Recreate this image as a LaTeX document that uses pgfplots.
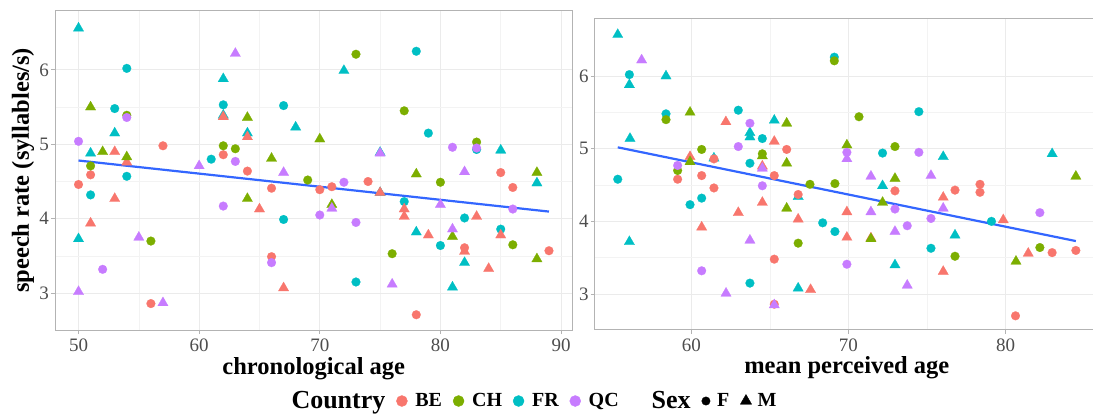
\documentclass[border=0pt]{standalone}
\usepackage{fontspec}
\setmainfont{Liberation Serif}
\usepackage{pgfplots}
\pgfplotsset{compat=1.18}
\definecolor{cBE}{HTML}{F8766D}
\definecolor{cCH}{HTML}{7CAE00}
\definecolor{cFR}{HTML}{00BFC4}
\definecolor{cQC}{HTML}{C77CFF}
\definecolor{gridmaj}{HTML}{EBEBEB}
\definecolor{gridmin}{HTML}{F3F3F3}
\definecolor{bordc}{HTML}{B3B3B3}
\definecolor{tickc}{HTML}{4D4D4D}
\definecolor{lineblue}{HTML}{3366FF}
\pgfplotsset{
  myaxis/.style={
    scale only axis,
    axis line style={bordc, line width=1bp},
    tick align=outside,
    tick pos=left,
    major tick length=4bp,
    minor tick length=0pt,
    tick style={bordc, line width=1bp},
    minor tick num=1,
    xmajorgrids, ymajorgrids, xminorgrids, yminorgrids,
    major grid style={gridmaj, line width=1bp},
    minor grid style={gridmin, line width=0.6bp},
    tick label style={font=\fontsize{19bp}{19bp}\selectfont, text=tickc},
    /pgf/number format/assume math mode=true,
    xticklabel style={inner ysep=2bp, yshift=-3bp},
    yticklabel style={inner xsep=2bp},
    ymin=2.505, ymax=6.795,
    ytick={3,4,5,6},
    label style={font=\fontsize{24.5bp}{24.5bp}\selectfont\bfseries, text=black},
  },
  fpt/.style={only marks, mark=*, mark size=4.4bp, forget plot, mark options={line width=0.2bp}},
  mpt/.style={only marks, mark=triangle*, mark size=6bp, forget plot, mark options={line width=0.2bp}},
}
\begin{document}
\begin{tikzpicture}
\useasboundingbox (0,0) rectangle (1093bp,415bp);
% ---------------- left panel: chronological age
\begin{axis}[myaxis,
  at={(55bp,85bp)}, anchor=south west,
  width=517.5bp, height=319.3bp,
  xmin=48.05, xmax=90.95,
  xtick={50,60,70,80,90},
  xlabel={chronological age},
  ylabel={speech rate (syllables/s)},
  xlabel style={at={(axis description cs:0.5,-0.122)}, anchor=center},
  ylabel style={at={(axis description cs:-0.0618,0.5)}, anchor=center, rotate=0},
  legend columns=-1,
  legend image code/.code={\draw[#1] plot coordinates {(0bp,0bp)};},
  legend style={draw=none, fill=none, at={(axis description cs:0.9256,-0.2224)}, anchor=center,
    /tikz/every even column/.append style={column sep=3bp},
    nodes={inner xsep=8bp, inner ysep=0bp, text=black},
    font=\fontsize{20bp}{20bp}\selectfont\bfseries},
]
% FR
\addplot[fpt, color=cFR] coordinates {(51,4.32) (53,5.48) (54,6.02) (54,4.57) (61,4.80) (62,5.53) (67,5.52) (67,3.99) (73,3.15) (77,4.23) (78,6.25) (79,5.15) (80,3.64) (82,4.01) (83,4.93) (85,3.86)};
\addplot[mpt, color=cFR] coordinates {(50,6.56) (50,3.73) (51,4.88) (53,5.15) (62,5.88) (62,5.39) (64,5.15) (68,5.23) (72,5.99) (75,4.89) (75,4.35) (78,3.82) (81,3.08) (82,3.41) (85,4.92) (88,4.48)};
% BE
\addplot[fpt, color=cBE] coordinates {(50,4.46) (51,4.59) (56,2.86) (57,4.98) (62,4.86) (64,4.64) (66,4.41) (66,3.49) (70,4.39) (71,4.43) (74,4.50) (78,2.71) (82,3.61) (85,4.62) (86,4.42) (89,3.57)};
\addplot[mpt, color=cBE] coordinates {(51,3.94) (53,4.27) (53,4.90) (54,4.76) (62,5.37) (64,5.10) (65,4.13) (67,3.07) (75,4.35) (77,4.13) (77,4.03) (79,3.78) (82,3.56) (83,4.03) (84,3.33) (85,3.78)};
% CH
\addplot[fpt, color=cCH] coordinates {(51,4.71) (54,5.39) (56,3.70) (62,4.98) (63,4.94) (69,4.52) (73,6.21) (76,3.53) (77,5.45) (80,4.49) (83,5.03) (86,3.65)};
\addplot[mpt, color=cCH] coordinates {(51,5.50) (52,4.90) (54,4.83) (64,5.36) (64,4.27) (66,4.81) (70,5.07) (71,4.19) (78,4.60) (81,3.76) (88,4.62) (88,3.46)};
% QC
\addplot[fpt, color=cQC] coordinates {(50,5.04) (52,3.32) (54,5.36) (62,4.17) (63,4.77) (66,3.41) (70,4.05) (72,4.49) (73,3.95) (81,4.96) (83,4.95) (86,4.13)};
\addplot[mpt, color=cQC] coordinates {(50,3.02) (55,3.75) (57,2.87) (60,4.71) (63,6.22) (67,4.62) (71,4.14) (75,4.88) (76,3.12) (80,4.19) (81,3.86) (82,4.63)};
% regression
\addplot[lineblue, line width=2.2bp, forget plot] coordinates {(50,4.782) (89,4.096)};
% legend
\addlegendimage{empty legend}\addlegendentry{\fontsize{26bp}{26bp}\selectfont Country\hspace{4bp}}
\addlegendimage{only marks, mark=*, mark size=5.5bp, cBE}\addlegendentry{BE}
\addlegendimage{only marks, mark=*, mark size=5.5bp, cCH}\addlegendentry{CH}
\addlegendimage{only marks, mark=*, mark size=5.5bp, cFR}\addlegendentry{FR}
\addlegendimage{only marks, mark=*, mark size=5.5bp, cQC}\addlegendentry{QC}
\addlegendimage{empty legend}\addlegendentry{\hspace{14bp}\fontsize{26bp}{26bp}\selectfont Sex\hspace{6bp}}
\addlegendimage{only marks, mark=*, mark size=4.2bp, black}\addlegendentry{\hspace{-1bp}F\hspace{-10bp}}
\addlegendimage{only marks, mark=triangle*, mark size=6.5bp, black}\addlegendentry{\hspace{-2bp}M}
\end{axis}
% ---------------- right panel: mean perceived age
\begin{axis}[myaxis,
  at={(594.8bp,85bp)}, anchor=south west,
  width=504bp, height=311.7bp,
  xmin=53.86, xmax=85.93,
  xtick={60,70,80},
  xlabel={mean perceived age},
  xlabel style={at={(axis description cs:0.5,-0.1219)}, anchor=center},
]
% FR
\addplot[fpt, color=cFR] coordinates {(56.06,6.02) (58.39,5.48) (62.99,5.53) (74.48,5.51) (64.52,5.14) (55.32,4.58) (63.73,4.80) (60.66,4.32) (69.1,6.26) (72.17,4.94) (79.1,4.00) (69.14,3.86) (75.25,3.63) (59.92,4.23) (68.36,3.98) (63.73,3.15)};
\addplot[mpt, color=cFR] coordinates {(55.32,6.57) (56.06,5.88) (58.39,6.00) (63.73,5.22) (63.73,5.16) (65.28,5.39) (56.1,5.14) (61.44,4.87) (66.8,4.34) (76.03,4.89) (82.96,4.93) (72.17,4.49) (76.78,3.81) (72.96,3.40) (56.06,3.72) (66.8,3.08)};
% BE
\addplot[fpt, color=cBE] coordinates {(61.44,4.86) (66.07,4.99) (59.13,4.58) (60.66,4.63) (61.44,4.46) (65.28,4.63) (66.8,4.37) (72.96,4.42) (76.78,4.43) (78.37,4.51) (78.37,4.40) (82.96,3.57) (84.47,3.60) (80.63,2.70) (65.28,3.48) (65.28,2.86)};
\addplot[mpt, color=cBE] coordinates {(62.2,5.37) (65.28,5.10) (59.92,4.89) (64.52,4.76) (76.03,4.33) (69.9,4.13) (71.43,3.77) (69.9,3.78) (79.85,4.02) (81.44,3.56) (76.03,3.31) (64.52,4.26) (62.99,4.12) (66.8,4.03) (60.66,3.92) (67.59,3.06)};
% CH
\addplot[fpt, color=cCH] coordinates {(60.66,4.99) (59.13,4.70) (64.52,4.93) (67.55,4.51) (69.14,4.52) (69.1,6.21) (70.67,5.44) (72.96,5.03) (82.18,3.64) (76.78,3.52) (66.8,3.70) (58.39,5.40)};
\addplot[mpt, color=cCH] coordinates {(59.92,5.50) (66.07,5.35) (59.92,4.82) (64.52,4.90) (66.07,4.80) (69.9,5.05) (84.47,4.62) (72.96,4.59) (72.17,4.26) (66.07,4.18) (71.43,3.76) (80.66,3.45)};
% QC
\addplot[fpt, color=cQC] coordinates {(63.73,5.35) (62.99,5.03) (59.13,4.77) (64.52,4.49) (69.9,4.95) (74.48,4.95) (72.96,4.17) (75.25,4.04) (82.18,4.12) (73.74,3.94) (69.9,3.41) (60.66,3.32)};
\addplot[mpt, color=cQC] coordinates {(56.84,6.22) (64.52,4.73) (69.9,4.86) (71.43,4.62) (75.25,4.63) (71.43,4.13) (76.03,4.18) (72.96,3.86) (73.74,3.12) (63.73,3.74) (62.21,3.01) (65.28,2.85)};
% regression
\addplot[lineblue, line width=2.2bp, forget plot] coordinates {(55.32,5.019) (84.47,3.729)};
\end{axis}
\end{tikzpicture}
\end{document}
